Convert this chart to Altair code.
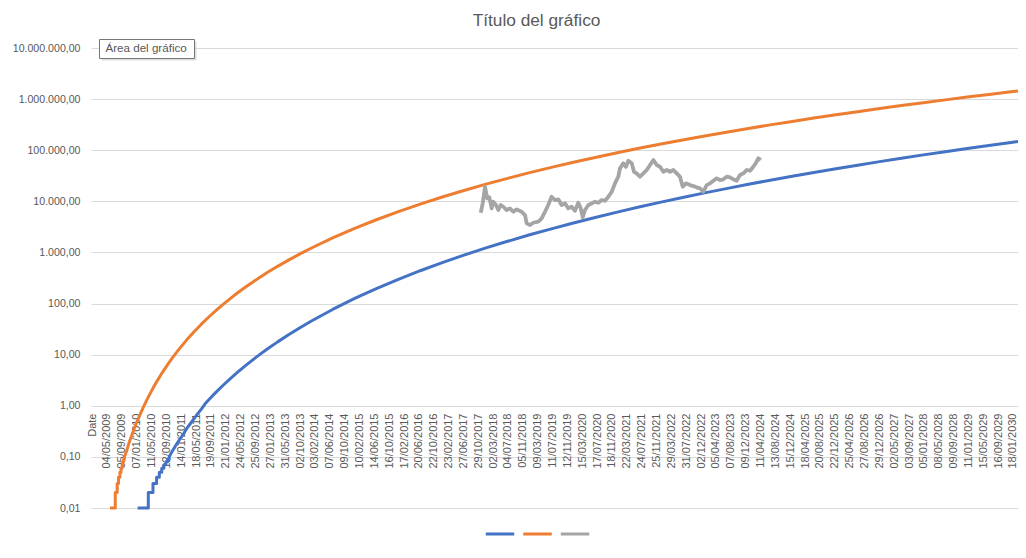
import altair as alt
import pandas as pd

TITLE = "Título del gráfico"
TOOLTIP = "Área del gráfico"
SERIES = ["Soporte", "Techo", "Precio"]
COLORS = ["#4472C4", "#ED7D31", "#A5A5A5"]

blue_dates = [
    "2010-01-15", "2010-04-14", "2010-04-14", "2010-05-23", "2010-05-23", "2010-06-22", "2010-06-22",
    "2010-07-15", "2010-07-15", "2010-08-04", "2010-08-04", "2010-08-22", "2010-08-22", "2010-09-07",
    "2010-09-07", "2010-09-22", "2010-09-22", "2010-10-05", "2010-10-05",
    "2010-11-01", "2010-12-01", "2011-01-01", "2011-02-01", "2011-03-01", "2011-04-01", "2011-05-01",
    "2011-06-01", "2011-07-01", "2011-08-01", "2011-09-01", "2011-10-01", "2011-11-01", "2012-01-01",
    "2012-03-01", "2012-05-01", "2012-07-01", "2012-10-01", "2013-01-01", "2013-04-01", "2013-07-01",
    "2013-10-01", "2014-01-01",
    "2014-07-01", "2015-01-01", "2015-07-01", "2016-01-01", "2016-07-01", "2017-01-01", "2017-07-01",
    "2018-01-01", "2018-07-01", "2019-01-01", "2019-07-01", "2020-01-01", "2020-07-01", "2021-01-01",
    "2021-07-01", "2022-01-01", "2022-07-01", "2023-01-01", "2023-07-01", "2024-01-01", "2024-07-01",
    "2025-01-01", "2025-07-01", "2026-01-01", "2026-07-01", "2027-01-01", "2027-07-01", "2028-01-01",
    "2028-07-01", "2029-01-01", "2029-07-01", "2030-01-01", "2030-03-01",
]
blue_values = [
    0.01, 0.01, 0.02, 0.02, 0.03, 0.03, 0.04, 0.04, 0.05, 0.05, 0.06, 0.06, 0.07, 0.07, 0.08, 0.08,
    0.09, 0.09, 0.10,
    0.13, 0.17, 0.22, 0.28, 0.36, 0.45, 0.56, 0.70, 0.86, 1.09, 1.31, 1.56, 1.85, 2.55, 3.44, 4.59,
    6.05, 8.95, 12.9, 18.0, 24.8, 33.7, 45.1,
    76.7, 126, 196, 298, 439, 632, 885, 1225, 1652, 2213, 2897, 3776, 4831, 6152, 7727, 9638,
    11890, 14620, 17750, 21530, 25880, 30970, 36730, 43450, 51050, 59840, 69820, 81100, 93760,
    108100, 124100, 142200, 148600,
]

orange_dates = [
    "2009-05-29", "2009-07-12", "2009-07-12", "2009-07-28", "2009-07-28", "2009-08-08", "2009-08-08",
    "2009-08-20", "2009-08-20", "2009-08-29", "2009-08-29", "2009-09-07", "2009-09-07", "2009-09-14",
    "2009-09-14", "2009-09-20", "2009-09-20", "2009-09-26", "2009-09-26",
    "2009-10-15", "2009-11-01", "2009-12-01", "2010-01-01", "2010-02-01", "2010-03-01", "2010-04-01",
    "2010-05-01", "2010-06-01", "2010-07-01", "2010-08-01", "2010-09-01", "2010-10-01", "2010-11-01",
    "2010-12-01", "2011-01-01", "2011-03-01", "2011-05-01", "2011-07-01", "2011-09-01", "2011-11-01",
    "2012-01-01", "2012-04-01", "2012-07-01", "2012-10-01", "2013-01-01", "2013-04-01", "2013-07-01",
    "2013-10-01", "2014-01-01",
    "2014-07-01", "2015-01-01", "2015-07-01", "2016-01-01", "2016-07-01", "2017-01-01", "2017-07-01",
    "2018-01-01", "2018-07-01", "2019-01-01", "2019-07-01", "2020-01-01", "2020-07-01", "2021-01-01",
    "2021-07-01", "2022-01-01", "2022-07-01", "2023-01-01", "2023-07-01", "2024-01-01", "2024-07-01",
    "2025-01-01", "2025-07-01", "2026-01-01", "2026-07-01", "2027-01-01", "2027-07-01", "2028-01-01",
    "2028-07-01", "2029-01-01", "2029-07-01", "2030-01-01", "2030-03-01",
]
orange_values = [
    0.01, 0.01, 0.02, 0.02, 0.03, 0.03, 0.04, 0.04, 0.05, 0.05, 0.06, 0.06, 0.07, 0.07, 0.08, 0.08,
    0.09, 0.09, 0.10,
    0.13, 0.18, 0.28, 0.44, 0.65, 0.91, 1.29, 1.77, 2.40, 3.18, 4.17, 5.40, 6.84, 8.63, 10.7, 13.3,
    19.5, 28.1, 39.5, 54.6, 73.6, 97.7, 145, 208, 293, 404, 541, 716, 935, 1208,
    1919, 2951, 4365, 6295, 8830, 12160, 16330, 21680, 28180, 36390, 46130, 58080, 72110, 89130,
    108900, 132100, 158800, 190100, 225400, 266700, 313300, 366400, 425600, 493200, 568500, 653100,
    746400, 851100, 966100, 1096000, 1236000, 1393000, 1445000,
]

gray_dates = [
    "2017-11-18", "2017-12-05", "2017-12-24", "2018-01-12", "2018-01-29", "2018-02-18", "2018-03-03",
    "2018-03-26", "2018-04-14", "2018-05-04", "2018-05-26", "2018-06-23", "2018-07-20", "2018-08-17",
    "2018-09-14", "2018-10-26", "2018-11-23", "2018-12-07", "2019-01-04", "2019-01-31", "2019-03-14",
    "2019-04-11", "2019-05-09", "2019-06-05", "2019-07-03", "2019-07-31", "2019-08-28", "2019-09-25",
    "2019-10-23", "2019-11-19", "2019-12-17", "2020-01-14", "2020-02-11", "2020-03-02", "2020-03-19",
    "2020-04-07", "2020-05-05", "2020-06-02", "2020-06-29", "2020-07-27", "2020-08-24", "2020-09-21",
    "2020-10-19", "2020-11-16", "2020-12-13", "2021-01-10", "2021-01-24", "2021-02-21", "2021-03-15",
    "2021-04-04", "2021-05-02", "2021-05-21", "2021-06-12", "2021-07-10", "2021-08-07", "2021-09-04",
    "2021-10-02", "2021-10-30", "2021-11-27", "2021-12-24", "2022-01-21", "2022-02-18", "2022-03-18",
    "2022-04-15", "2022-05-13", "2022-06-09", "2022-07-02", "2022-07-29", "2022-09-01", "2022-09-28",
    "2022-10-26", "2022-11-23", "2022-12-21", "2023-01-18", "2023-02-15", "2023-03-15", "2023-04-11",
    "2023-05-09", "2023-06-06", "2023-07-04", "2023-08-01", "2023-08-28", "2023-09-25", "2023-10-23",
    "2023-11-20", "2023-12-18", "2024-01-15", "2024-02-11", "2024-03-05", "2024-03-24", "2024-04-13",
]
gray_values = [
    5980, 9140, 19300, 11450, 11970, 7290, 9820, 8470, 6760, 8470, 7840, 6760, 7290, 6250, 6970,
    6250, 5390, 3710, 3440, 3810, 3990, 4650, 6250, 8470, 12300, 10600, 10940, 8470, 9140, 7290,
    7840, 6550, 9390, 7290, 4860, 6760, 8470, 9140, 9820, 9390, 10600, 10280, 12300, 15400, 22500,
    30300, 44200, 55400, 47500, 62300, 55400, 37900, 35300, 30300, 35300, 41000, 51300, 64300, 51300,
    47500, 37900, 41000, 37900, 41000, 35300, 30300, 19300, 22500, 20800, 19900, 18800, 17900, 15400,
    20800, 22500, 25300, 28200, 26100, 27000, 30300, 29500, 27000, 25300, 32700, 35300, 41000, 39700,
    47500, 56900, 69400, 64300,
]

Y_TICKS = [0.01, 0.1, 1, 10, 100, 1000, 10000, 100000, 1000000, 10000000]

frames = []
for name, d, v in zip(SERIES, [blue_dates, orange_dates, gray_dates],
                      [blue_values, orange_values, gray_values]):
    f = pd.DataFrame({"fecha": pd.to_datetime(d), "valor": v})
    f["serie"] = name
    f["i"] = range(len(f))
    frames.append(f)
df = pd.concat(frames, ignore_index=True)

# category-style tick positions (every 124 days, first slot is the "Date" header)
ticks = [alt.DateTime(year=2008, month=12, date=31)] + [
    alt.DateTime(year=t.year, month=t.month, date=t.day)
    for t in pd.date_range("2009-05-04", periods=62, freq="124D")
]

FONT = "Liberation Sans"
LABEL = "#595959"

x_enc = alt.X(
    "fecha:T",
    scale=alt.Scale(domain=[alt.DateTime(year=2008, month=12, date=21, hours=12),
                            alt.DateTime(year=2030, month=3, date=1)]),
    axis=alt.Axis(
        values=ticks,
        labelExpr="year(datum.value) < 2009 ? 'Date' : timeFormat(datum.value, '%d/%m/%Y')",
        labelAngle=270, labelFontSize=11, labelColor=LABEL, labelPadding=7,
        ticks=False, domain=False, grid=False, offset=-102, title=None,
        labelOverlap=False, labelFlush=False, labelBound=False,
    ),
)
y_enc = alt.Y(
    "valor:Q",
    scale=alt.Scale(type="log", domain=[0.01, 10000000], nice=False),
    axis=alt.Axis(values=Y_TICKS, format=",.2f", grid=True, gridColor="#D9D9D9", gridWidth=1,
                  ticks=False, domain=False, labelPadding=11, labelFontSize=10.6,
                  labelColor=LABEL, title=None),
)
color_enc = alt.Color(
    "serie:N",
    scale=alt.Scale(domain=SERIES, range=COLORS),
    legend=alt.Legend(orient="none", legendX=393, legendY=470, direction="horizontal",
                      title=None, labelExpr="''", symbolType="stroke", symbolSize=812,
                      symbolStrokeWidth=3, columnPadding=-4.5, labelOffset=0, padding=0),
)

base = alt.Chart(df)
layers = []
for name, w in zip(SERIES, [3, 3, 3.8]):
    layers.append(
        base.transform_filter(alt.datum.serie == name)
        .mark_line(strokeWidth=w, strokeJoin="round")
        .encode(x=x_enc, y=y_enc, color=color_enc, order="i:Q")
    )

note = pd.DataFrame({"k": [0]})
shadow = alt.Chart(note).mark_rect(fill="#c8c8c8", opacity=0.6).encode(
    x=alt.value(10.5), x2=alt.value(105.5), y=alt.value(-6.5), y2=alt.value(12.5))
box = alt.Chart(note).mark_rect(fill="white", stroke="#767676", strokeWidth=1).encode(
    x=alt.value(8.5), x2=alt.value(103.5), y=alt.value(-8.5), y2=alt.value(10.5))
box_text = alt.Chart(note).mark_text(
    text=TOOLTIP, align="left", baseline="middle", fontSize=11.6, color="#575757", font=FONT
).encode(x=alt.value(14.5), y=alt.value(1))

chart = alt.layer(*layers, shadow, box, box_text).properties(
    width=927, height=460,
    title=alt.TitleParams(TITLE, fontSize=17.3, font=FONT, color=LABEL, fontWeight="normal",
                          anchor="middle", frame="group", dx=-18, offset=10),
    padding={"left": 83, "top": 40, "right": 0, "bottom": 30},
    autosize=alt.AutoSizeParams(type="none"),
).configure(
    font=FONT,
    locale={"number": {"decimal": ",", "thousands": ".", "grouping": [3], "currency": ["", " €"]}},
).configure_view(stroke=None)

chart.save("out.html", embed_options={"renderer": "svg", "actions": False})
